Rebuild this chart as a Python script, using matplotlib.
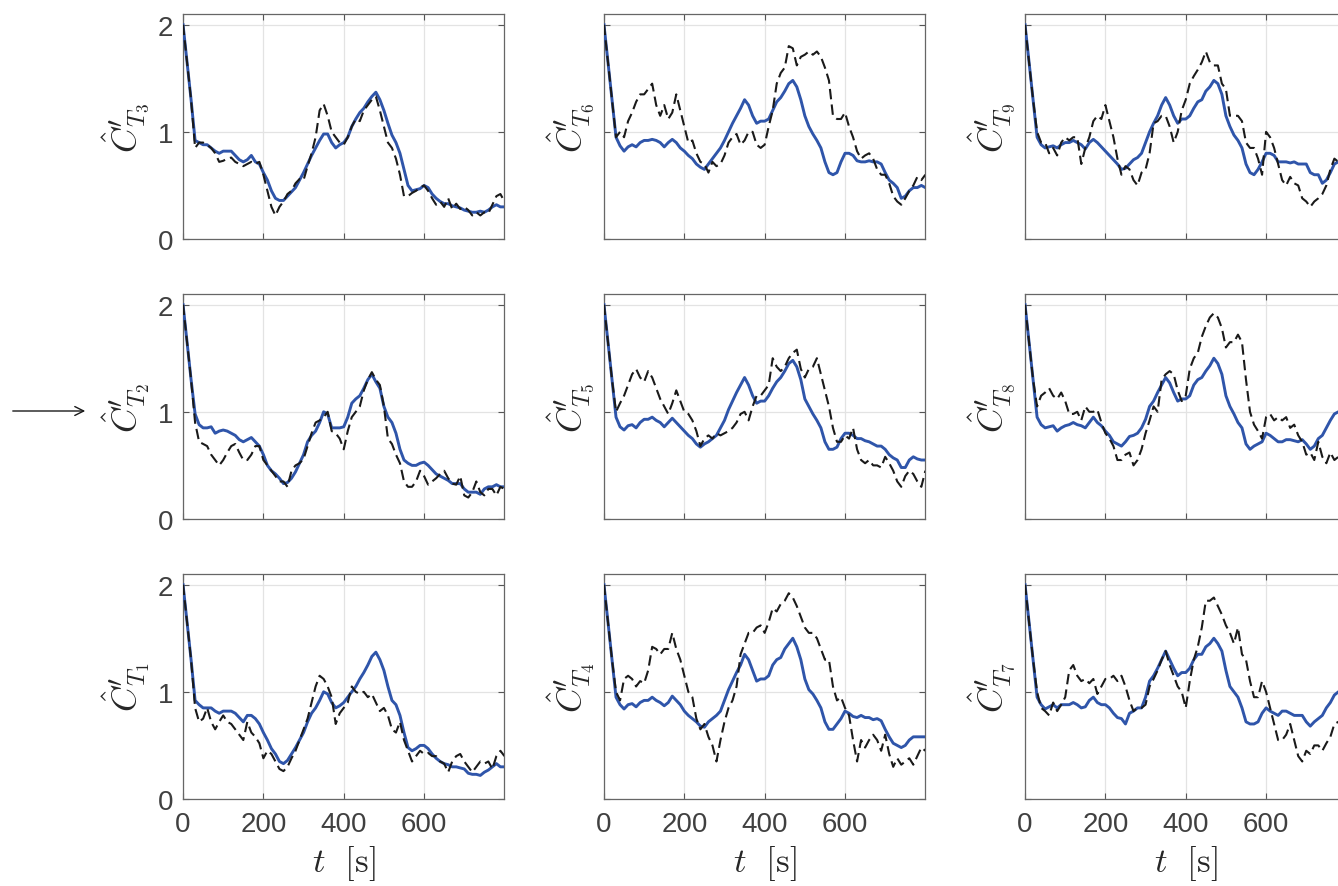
import matplotlib
matplotlib.use("Agg")
import matplotlib.pyplot as plt
import numpy as np

plt.rcParams['mathtext.fontset'] = 'cm'
plt.rcParams['font.family'] = ['Liberation Sans', 'DejaVu Sans']

# time grid, 10 s steps
t = np.arange(0, 801, 10)

# panel labels, laid out as in the figure (rows top->bottom, cols left->right)
labels = [["T_3", "T_6", "T_9"],
          ["T_2", "T_5", "T_8"],
          ["T_1", "T_4", "T_7"]]

# blue solid curves
blue_T1 = [2.0, 1.65, 1.3, 0.92, 0.88, 0.85, 0.85, 0.85, 0.82, 0.8, 0.82, 0.82, 0.82, 0.8, 0.76, 0.72, 0.78, 0.78, 0.75, 0.7,
           0.62, 0.55, 0.47, 0.42, 0.35, 0.33, 0.36, 0.42, 0.48, 0.55, 0.62, 0.72, 0.8, 0.85, 0.92, 1.0, 0.98, 0.9, 0.85, 0.87,
           0.9, 0.95, 1.0, 1.05, 1.12, 1.18, 1.25, 1.33, 1.37, 1.3, 1.2, 1.05, 0.92, 0.88, 0.78, 0.62, 0.48, 0.45, 0.47, 0.5,
           0.5, 0.47, 0.42, 0.38, 0.35, 0.33, 0.32, 0.3, 0.3, 0.29, 0.28, 0.24, 0.23, 0.23, 0.22, 0.25, 0.27, 0.3, 0.33, 0.3, 0.3]
blue_T2 = [2.0, 1.65, 1.3, 0.98, 0.88, 0.85, 0.85, 0.86, 0.8, 0.82, 0.83, 0.82, 0.8, 0.78, 0.74, 0.72, 0.74, 0.76, 0.72, 0.68,
           0.6, 0.5, 0.45, 0.42, 0.38, 0.33, 0.34, 0.38, 0.44, 0.52, 0.6, 0.72, 0.78, 0.82, 0.9, 1.0, 0.98, 0.85, 0.85, 0.85,
           0.86, 0.95, 1.08, 1.12, 1.15, 1.22, 1.3, 1.35, 1.28, 1.22, 1.05, 0.95, 0.9, 0.8, 0.65, 0.55, 0.52, 0.5, 0.5, 0.52,
           0.53, 0.5, 0.46, 0.42, 0.4, 0.38, 0.36, 0.33, 0.33, 0.33, 0.28, 0.25, 0.25, 0.25, 0.23, 0.28, 0.3, 0.3, 0.32, 0.3, 0.3]
blue_T3 = [2.0, 1.65, 1.3, 0.92, 0.9, 0.88, 0.88, 0.85, 0.82, 0.8, 0.82, 0.82, 0.82, 0.78, 0.74, 0.72, 0.74, 0.78, 0.72, 0.7,
           0.62, 0.55, 0.45, 0.38, 0.36, 0.36, 0.4, 0.44, 0.48, 0.55, 0.62, 0.7, 0.78, 0.85, 0.92, 0.98, 0.98, 0.9, 0.85, 0.88,
           0.9, 0.95, 1.05, 1.12, 1.18, 1.22, 1.28, 1.33, 1.37, 1.3, 1.2, 1.08, 0.97, 0.9, 0.8, 0.65, 0.5, 0.45, 0.46, 0.47,
           0.5, 0.48, 0.42, 0.38, 0.35, 0.33, 0.33, 0.31, 0.3, 0.29, 0.27, 0.26, 0.25, 0.25, 0.26, 0.25, 0.27, 0.3, 0.32, 0.3, 0.3]
blue_T4 = [2.0, 1.65, 1.3, 0.95, 0.88, 0.84, 0.88, 0.89, 0.86, 0.9, 0.92, 0.92, 0.95, 0.92, 0.9, 0.87, 0.9, 0.96, 0.92, 0.88,
           0.82, 0.78, 0.75, 0.72, 0.68, 0.67, 0.72, 0.75, 0.78, 0.82, 0.92, 1.02, 1.1, 1.18, 1.25, 1.35, 1.3, 1.2, 1.1, 1.12,
           1.12, 1.15, 1.25, 1.3, 1.32, 1.4, 1.45, 1.5, 1.42, 1.3, 1.12, 1.02, 0.98, 0.92, 0.85, 0.72, 0.65, 0.65, 0.7, 0.75,
           0.82, 0.8, 0.77, 0.76, 0.78, 0.76, 0.76, 0.74, 0.75, 0.73, 0.65, 0.58, 0.52, 0.5, 0.48, 0.5, 0.55, 0.58, 0.58, 0.58, 0.58]
blue_T5 = [2.0, 1.65, 1.3, 0.95, 0.86, 0.83, 0.87, 0.88, 0.85, 0.9, 0.93, 0.93, 0.95, 0.92, 0.9, 0.86, 0.9, 0.94, 0.9, 0.86,
           0.82, 0.78, 0.75, 0.7, 0.67, 0.7, 0.72, 0.75, 0.78, 0.85, 0.92, 1.02, 1.1, 1.18, 1.25, 1.32, 1.25, 1.15, 1.08, 1.1,
           1.1, 1.15, 1.22, 1.28, 1.32, 1.38, 1.45, 1.48, 1.42, 1.3, 1.12, 1.05, 0.98, 0.92, 0.85, 0.72, 0.65, 0.65, 0.67, 0.75,
           0.8, 0.8, 0.78, 0.75, 0.75, 0.73, 0.72, 0.7, 0.68, 0.68, 0.65, 0.6, 0.57, 0.55, 0.48, 0.48, 0.55, 0.58, 0.56, 0.55, 0.55]
blue_T6 = [2.0, 1.65, 1.3, 0.95, 0.87, 0.82, 0.86, 0.88, 0.86, 0.9, 0.92, 0.92, 0.93, 0.92, 0.9, 0.86, 0.9, 0.93, 0.9, 0.85,
           0.82, 0.78, 0.75, 0.7, 0.67, 0.65, 0.7, 0.75, 0.8, 0.85, 0.92, 1.0, 1.08, 1.15, 1.22, 1.3, 1.25, 1.15, 1.08, 1.1,
           1.1, 1.12, 1.2, 1.28, 1.32, 1.38, 1.45, 1.48, 1.42, 1.3, 1.15, 1.05, 0.98, 0.92, 0.85, 0.72, 0.62, 0.6, 0.62, 0.72,
           0.8, 0.8, 0.78, 0.73, 0.72, 0.72, 0.73, 0.72, 0.72, 0.7, 0.62, 0.55, 0.52, 0.48, 0.38, 0.4, 0.45, 0.48, 0.48, 0.5, 0.48]
blue_T7 = [2.0, 1.65, 1.3, 0.95, 0.88, 0.84, 0.86, 0.88, 0.85, 0.88, 0.88, 0.88, 0.9, 0.88, 0.85, 0.86, 0.92, 0.95, 0.9, 0.88,
           0.88, 0.85, 0.8, 0.76, 0.75, 0.7, 0.8, 0.82, 0.85, 0.85, 0.95, 1.1, 1.15, 1.22, 1.3, 1.38, 1.3, 1.22, 1.15, 1.18,
           1.18, 1.22, 1.3, 1.35, 1.35, 1.42, 1.45, 1.5, 1.45, 1.38, 1.2, 1.05, 1.0, 0.95, 0.85, 0.72, 0.7, 0.7, 0.72, 0.8,
           0.85, 0.82, 0.8, 0.78, 0.82, 0.82, 0.8, 0.78, 0.78, 0.78, 0.72, 0.68, 0.72, 0.75, 0.78, 0.85, 0.9, 0.97, 1.0, 1.02, 1.03]
blue_T8 = [2.0, 1.65, 1.3, 0.95, 0.88, 0.85, 0.86, 0.87, 0.82, 0.85, 0.87, 0.88, 0.9, 0.88, 0.87, 0.85, 0.9, 0.95, 0.9, 0.87,
           0.82, 0.78, 0.72, 0.7, 0.68, 0.72, 0.77, 0.78, 0.8, 0.85, 0.93, 1.05, 1.1, 1.18, 1.25, 1.32, 1.27, 1.18, 1.1, 1.12,
           1.12, 1.15, 1.25, 1.3, 1.32, 1.38, 1.43, 1.5, 1.45, 1.35, 1.15, 1.05, 0.98, 0.9, 0.85, 0.7, 0.65, 0.68, 0.7, 0.72,
           0.8, 0.78, 0.75, 0.72, 0.72, 0.74, 0.74, 0.73, 0.72, 0.74, 0.7, 0.65, 0.68, 0.75, 0.78, 0.85, 0.92, 0.98, 1.0, 1.02, 1.03]
blue_T9 = [2.0, 1.65, 1.3, 0.95, 0.88, 0.85, 0.86, 0.87, 0.85, 0.88, 0.9, 0.9, 0.92, 0.9, 0.88, 0.84, 0.9, 0.93, 0.9, 0.86,
           0.82, 0.78, 0.74, 0.7, 0.65, 0.66, 0.7, 0.74, 0.76, 0.8, 0.9, 1.0, 1.08, 1.15, 1.25, 1.32, 1.25, 1.15, 1.08, 1.12,
           1.12, 1.15, 1.22, 1.28, 1.3, 1.38, 1.42, 1.48, 1.45, 1.35, 1.15, 1.05, 0.97, 0.92, 0.85, 0.7, 0.62, 0.6, 0.65, 0.72,
           0.8, 0.8, 0.78, 0.72, 0.72, 0.72, 0.71, 0.72, 0.7, 0.7, 0.7, 0.62, 0.6, 0.6, 0.52, 0.55, 0.62, 0.7, 0.72, 0.74, 0.75]

# black dashed curves
black_T1 = [2.0, 1.65, 1.3, 0.85, 0.72, 0.75, 0.85, 0.72, 0.65, 0.72, 0.78, 0.72, 0.7, 0.65, 0.6, 0.55, 0.72, 0.62, 0.58, 0.52,
            0.38, 0.45, 0.42, 0.35, 0.28, 0.26, 0.3, 0.38, 0.45, 0.55, 0.65, 0.75, 0.9, 1.05, 1.15, 1.12, 1.05, 0.95, 0.7, 0.8,
            0.85, 0.9, 1.05, 1.0, 0.98, 1.0, 0.95, 0.98, 0.9, 0.82, 0.85, 0.78, 0.65, 0.62, 0.72, 0.55, 0.45, 0.35, 0.4, 0.45,
            0.42, 0.43, 0.4, 0.4, 0.35, 0.33, 0.25, 0.35, 0.4, 0.42, 0.35, 0.3, 0.25, 0.3, 0.35, 0.33, 0.35, 0.28, 0.4, 0.45, 0.4]
black_T2 = [2.0, 1.65, 1.3, 0.9, 0.72, 0.7, 0.68, 0.6, 0.55, 0.5, 0.55, 0.62, 0.68, 0.7, 0.62, 0.55, 0.55, 0.6, 0.68, 0.68,
            0.55, 0.5, 0.45, 0.4, 0.35, 0.35, 0.3, 0.45, 0.5, 0.52, 0.56, 0.68, 0.8, 0.9, 0.92, 0.95, 1.0, 0.82, 0.8, 0.75,
            0.65, 0.82, 0.95, 1.0, 1.05, 1.2, 1.3, 1.37, 1.3, 1.25, 1.05, 0.75, 0.7, 0.6, 0.52, 0.35, 0.3, 0.3, 0.35, 0.45,
            0.4, 0.32, 0.35, 0.38, 0.42, 0.45, 0.38, 0.33, 0.32, 0.4, 0.22, 0.2, 0.25, 0.35, 0.25, 0.22, 0.28, 0.28, 0.22, 0.3, 0.28]
black_T3 = [2.0, 1.65, 1.3, 0.85, 0.9, 0.9, 0.88, 0.85, 0.8, 0.72, 0.73, 0.75, 0.76, 0.72, 0.7, 0.68, 0.7, 0.72, 0.7, 0.72,
            0.6, 0.45, 0.3, 0.22, 0.3, 0.35, 0.42, 0.45, 0.52, 0.56, 0.55, 0.68, 0.8, 0.95, 1.2, 1.26, 1.15, 1.0, 0.95, 0.9,
            0.88, 0.95, 1.05, 1.12, 1.1, 1.2, 1.25, 1.3, 1.33, 1.2, 1.05, 0.9, 0.85, 0.75, 0.6, 0.4, 0.4, 0.43, 0.45, 0.48,
            0.5, 0.45, 0.38, 0.32, 0.35, 0.3, 0.38, 0.28, 0.33, 0.28, 0.3, 0.27, 0.22, 0.25, 0.22, 0.25, 0.24, 0.32, 0.4, 0.42, 0.35]
black_T4 = [2.0, 1.65, 1.3, 1.0, 0.92, 1.12, 1.15, 1.12, 1.05, 1.1, 1.08, 1.2, 1.42, 1.4, 1.35, 1.4, 1.4, 1.55, 1.4, 1.3,
            1.15, 1.0, 0.95, 0.75, 0.65, 0.7, 0.58, 0.5, 0.35, 0.55, 0.72, 0.85, 0.92, 1.05, 1.35, 1.45, 1.55, 1.55, 1.6, 1.62,
            1.55, 1.65, 1.78, 1.75, 1.82, 1.85, 1.92, 1.88, 1.8, 1.7, 1.6, 1.55, 1.55, 1.5, 1.4, 1.3, 1.3, 1.05, 0.92, 0.95,
            0.85, 0.78, 0.55, 0.35, 0.55, 0.48, 0.55, 0.6, 0.55, 0.45, 0.6, 0.42, 0.3, 0.38, 0.32, 0.35, 0.38, 0.32, 0.4, 0.48, 0.45]
black_T5 = [2.0, 1.65, 1.3, 1.0, 1.08, 1.15, 1.25, 1.35, 1.4, 1.32, 1.28, 1.38, 1.32, 1.22, 1.12, 1.05, 0.98, 1.08, 1.2, 1.1,
            1.0, 0.98, 0.92, 0.82, 0.68, 0.75, 0.78, 0.75, 0.8, 0.78, 0.8, 0.82, 0.85, 0.9, 0.98, 1.0, 0.92, 1.05, 1.15, 1.15,
            1.2, 1.25, 1.5, 1.42, 1.38, 1.42, 1.5, 1.55, 1.58, 1.4, 1.32, 1.4, 1.42, 1.5, 1.35, 1.2, 1.05, 0.85, 0.72, 0.72,
            0.78, 0.75, 0.85, 0.65, 0.55, 0.52, 0.55, 0.5, 0.5, 0.48, 0.58, 0.52, 0.45, 0.35, 0.3, 0.4, 0.45, 0.42, 0.35, 0.3, 0.45]
black_T6 = [2.0, 1.65, 1.3, 0.95, 1.0, 0.95, 1.1, 1.18, 1.28, 1.35, 1.35, 1.4, 1.45, 1.25, 1.15, 1.25, 1.12, 1.18, 1.35, 1.2,
            1.05, 0.9, 0.92, 0.8, 0.72, 0.7, 0.62, 0.72, 0.68, 0.7, 0.78, 0.9, 0.95, 0.98, 0.88, 0.92, 1.0, 1.0, 0.88, 0.85,
            0.88, 1.05, 1.2, 1.45, 1.55, 1.6, 1.8, 1.78, 1.62, 1.7, 1.72, 1.75, 1.72, 1.75, 1.7, 1.6, 1.48, 1.15, 1.12, 1.12,
            1.18, 1.05, 0.95, 0.82, 0.75, 0.78, 0.8, 0.75, 0.65, 0.6, 0.6, 0.52, 0.4, 0.35, 0.32, 0.38, 0.45, 0.5, 0.58, 0.55, 0.6]
black_T7 = [2.0, 1.65, 1.3, 1.0, 0.85, 0.82, 0.78, 0.9, 0.82, 0.88, 0.95, 1.2, 1.25, 1.15, 1.1, 1.12, 1.08, 1.12, 0.98, 1.05,
            1.12, 1.12, 1.15, 1.1, 1.15, 1.05, 0.92, 0.82, 0.85, 0.85, 0.88, 1.05, 1.12, 1.2, 1.3, 1.38, 1.25, 1.15, 1.05, 1.0,
            0.85, 1.1, 1.3, 1.42, 1.6, 1.85, 1.85, 1.88, 1.8, 1.72, 1.62, 1.55, 1.45, 1.6, 1.35, 1.3, 1.1, 0.95, 0.95, 1.1,
            1.0, 0.85, 0.7, 0.55, 0.55, 0.6, 0.7, 0.55, 0.4, 0.35, 0.45, 0.42, 0.5, 0.5, 0.45, 0.52, 0.58, 0.7, 0.72, 0.75, 0.78]
black_T8 = [2.0, 1.65, 1.3, 1.05, 1.15, 1.18, 1.22, 1.15, 1.12, 1.18, 1.1, 0.98, 0.98, 1.0, 0.92, 1.05, 1.0, 1.0, 1.02, 0.9,
            0.8, 0.75, 0.68, 0.55, 0.55, 0.6, 0.62, 0.5, 0.55, 0.65, 0.8, 0.92, 1.05, 1.0, 1.3, 1.35, 1.38, 1.35, 1.2, 1.1,
            1.15, 1.4, 1.5, 1.55, 1.7, 1.8, 1.88, 1.92, 1.88, 1.78, 1.6, 1.65, 1.65, 1.72, 1.65, 1.3, 1.0, 0.88, 0.82, 0.75,
            0.95, 0.98, 0.92, 0.95, 0.92, 0.95, 0.85, 0.88, 0.78, 0.72, 0.6, 0.62, 0.55, 0.72, 0.58, 0.52, 0.62, 0.55, 0.58, 0.6, 0.62]
black_T9 = [2.0, 1.65, 1.3, 1.0, 0.9, 0.9, 0.8, 0.85, 0.78, 0.9, 0.95, 0.92, 0.95, 0.95, 0.7, 0.85, 0.95, 1.1, 1.15, 1.12,
            1.25, 1.1, 0.95, 0.75, 0.6, 0.68, 0.65, 0.55, 0.5, 0.62, 0.65, 0.8, 1.08, 1.1, 1.15, 1.15, 1.05, 0.9, 1.0, 1.2,
            1.3, 1.45, 1.52, 1.58, 1.65, 1.75, 1.65, 1.62, 1.62, 1.45, 1.4, 1.15, 1.15, 1.15, 1.1, 0.9, 0.85, 0.85, 0.75, 0.6,
            1.0, 0.95, 0.85, 0.7, 0.55, 0.5, 0.58, 0.52, 0.5, 0.38, 0.35, 0.3, 0.35, 0.38, 0.42, 0.5, 0.65, 0.75, 0.72, 0.7, 0.7]

blue = {"T_1": blue_T1, "T_2": blue_T2, "T_3": blue_T3, "T_4": blue_T4, "T_5": blue_T5,
        "T_6": blue_T6, "T_7": blue_T7, "T_8": blue_T8, "T_9": blue_T9}
black = {"T_1": black_T1, "T_2": black_T2, "T_3": black_T3, "T_4": black_T4, "T_5": black_T5,
         "T_6": black_T6, "T_7": black_T7, "T_8": black_T8, "T_9": black_T9}

fig = plt.figure(figsize=(13.38, 8.87), dpi=100)

lefts = [0.1368, 0.4514, 0.7661]
bottoms = [0.7294, 0.4138, 0.0981]
w, h = 0.2399, 0.2537
tick_col = '#404040'

for r in range(3):
    for c in range(3):
        key = labels[r][c]
        ax = fig.add_axes([lefts[c], bottoms[r], w, h])
        ax.plot(t, blue[key], color='#2f55aa', lw=2.1, zorder=3)
        ax.plot(t, black[key], color='#1a1a1a', lw=1.5, ls=(0, (5, 2.5)), zorder=4)
        ax.set_xlim(0, 799)
        ax.set_ylim(0, 2.1)
        ax.set_xticks([0, 200, 400, 600])
        ax.set_yticks([0, 1, 2])
        ax.grid(True, color='#e3e3e3', lw=0.9)
        ax.set_axisbelow(True)
        ax.tick_params(direction='in', length=4, width=0.8, top=True, right=True,
                       labelsize=20, colors='#555555', labelcolor=tick_col)
        ax.tick_params(axis='x', pad=9)
        ax.tick_params(axis='y', pad=7)
        for s in ax.spines.values():
            s.set_color('#666666')
            s.set_linewidth(0.9)
        if r < 2:
            ax.set_xticklabels([])
        else:
            ax.set_xlabel(r'$t\ \ [\mathrm{s}]$', fontsize=25, color='#262626', labelpad=4)
        ylab = r"$\hat{C}^{\prime}_{" + key + "}$"
        if c > 0:
            ax.set_yticklabels([])
            ax.set_ylabel(ylab, fontsize=25, color='#262626', labelpad=-2)
        else:
            ax.set_ylabel(ylab, fontsize=25, color='#262626', labelpad=4)

# arrow pointing at the middle-left panel
fig.add_artist(matplotlib.patches.FancyArrowPatch((10 / 1338, 1 - 412 / 887), (88 / 1338, 1 - 412 / 887),
                                                  transform=fig.transFigure, arrowstyle='->', mutation_scale=16,
                                                  color='#1a1a1a', lw=1.0))

fig.savefig('out.png', dpi=100)
